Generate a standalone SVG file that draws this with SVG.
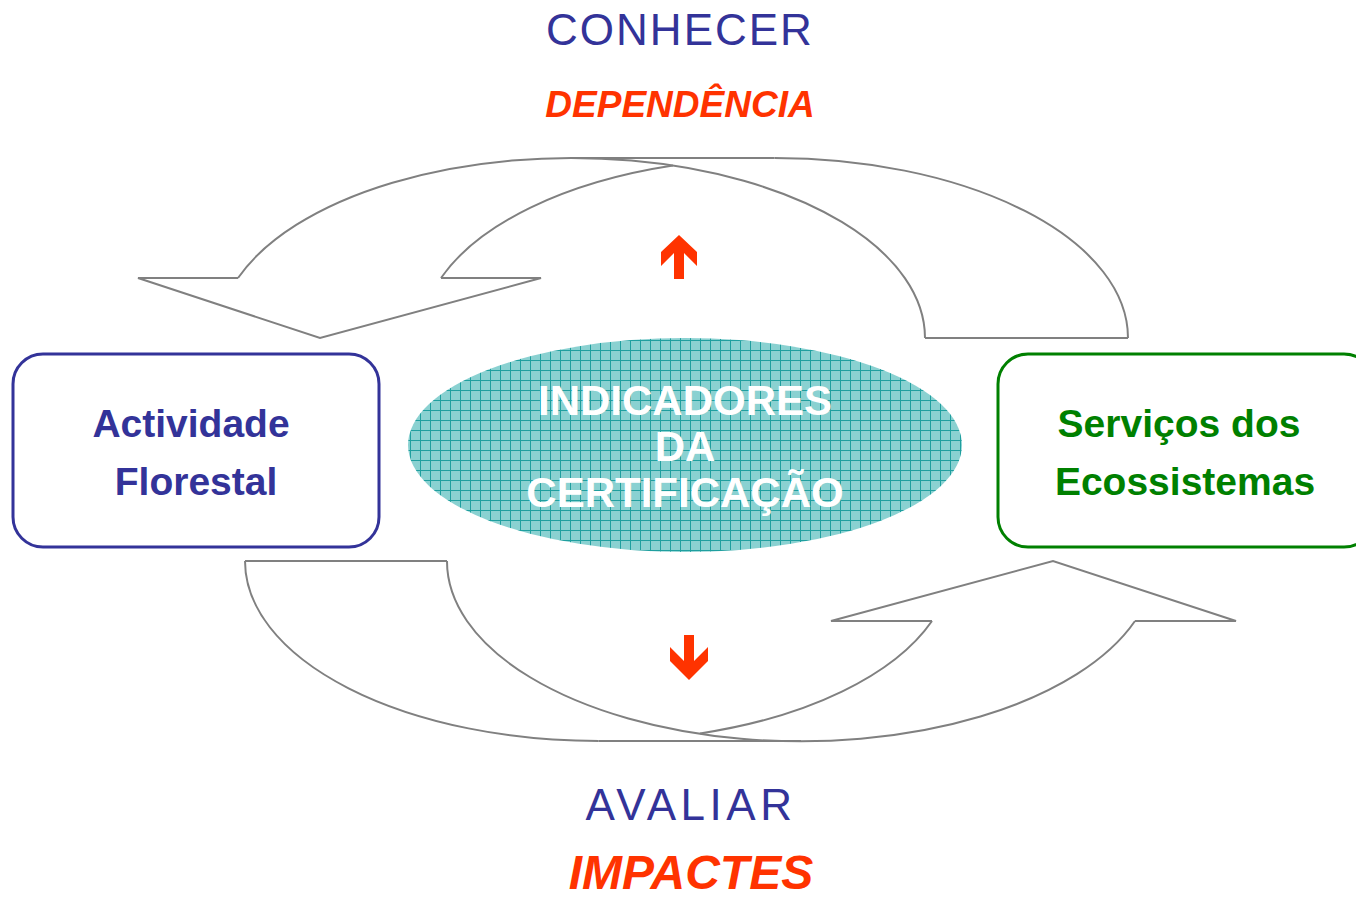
<svg xmlns="http://www.w3.org/2000/svg" width="1356" height="897" viewBox="0 0 1356 897">
<defs>
<pattern id="grid" patternUnits="userSpaceOnUse" width="10" height="10">
<rect width="10" height="10" fill="#8ad1d1"/>
<path d="M0 0.5H10M0.5 0V10" stroke="#1f9f9f" stroke-width="1"/>
</pattern>
</defs>
<style>
.conn{fill:none;stroke:#808080;stroke-width:2;stroke-linejoin:miter}
.red{fill:#ff3300}
.t{font-family:"Liberation Sans",Arial,sans-serif}
.blue{fill:#333399;font-weight:bold;font-size:39px}
.green{fill:#008000;font-weight:bold;font-size:39px}
.white{fill:#ffffff;font-weight:bold;font-size:42px}
.head{fill:#333399;font-size:44px}
.key{fill:#ff3300;font-weight:bold;font-style:italic}
</style>
<rect width="1356" height="897" fill="#ffffff"/>
<g id="connectors">
<g id="arrow-top">
<path class="conn" d="M238,278 A353.6,180 0 0 1 925,338"/>
<path class="conn" d="M441,278 A353.6,180 0 0 1 672.9,165.6"/>
<path class="conn" d="M774.4,158 A353.6,180 0 0 1 1128,338"/>
<path class="conn" d="M571,158 L774.4,158"/>
<path class="conn" d="M238,278 L138,278 L320,338 L541,278 L441,278"/>
<path class="conn" d="M925,338 L1128,338"/>
</g>
<g id="arrow-bottom">
<path class="conn" d="M447,561 A354,180 0 0 0 1135,621"/>
<path class="conn" d="M245,561 A353.6,180 0 0 0 598.6,741"/>
<path class="conn" d="M700,733.4 A353.6,180 0 0 0 932,621"/>
<path class="conn" d="M598.6,741 L801,741"/>
<path class="conn" d="M932,621 L831,621 L1053,561 L1236,621 L1135,621"/>
<path class="conn" d="M245,561 L447,561"/>
</g>
<polygon id="up-arrow" class="red" points="674,279 684,279 684,253 697,266 697,252 679,235 661,252 661,266 674,253"/>
<polygon id="down-arrow" class="red" points="684,635 694,635 694,661 708,647 708,661 689,680 670,661 670,647 684,661"/>
</g>
<g id="node-indicadores">
<ellipse cx="685" cy="445" rx="277" ry="107" fill="url(#grid)"/>
<text class="t white" text-anchor="middle" x="685" y="415">INDICADORES</text>
<text class="t white" text-anchor="middle" x="685" y="461">DA</text>
<text class="t white" text-anchor="middle" x="685" y="507">CERTIFICAÇÃO</text>
</g>
<g id="node-actividade">
<rect x="13" y="354" width="366" height="193" rx="30" ry="30" fill="#ffffff" stroke="#333399" stroke-width="3"/>
<text class="t blue" text-anchor="middle" x="191" y="437">Actividade</text>
<text class="t blue" text-anchor="middle" x="196" y="495">Florestal</text>
</g>
<g id="node-servicos">
<rect x="998" y="354" width="376" height="193" rx="30" ry="30" fill="#ffffff" stroke="#008000" stroke-width="3"/>
<text class="t green" text-anchor="middle" x="1179" y="437">Serviços dos</text>
<text class="t green" text-anchor="middle" x="1185" y="495">Ecossistemas</text>
</g>
<g id="labels">
<text class="t head" text-anchor="middle" x="680" y="45" letter-spacing="2">CONHECER</text>
<text class="t key" text-anchor="middle" x="680" y="117" font-size="37">DEPENDÊNCIA</text>
<text class="t head" text-anchor="middle" x="691" y="820" letter-spacing="4.5">AVALIAR</text>
<text class="t key" text-anchor="middle" x="691" y="889" font-size="48">IMPACTES</text>
</g>
</svg>
